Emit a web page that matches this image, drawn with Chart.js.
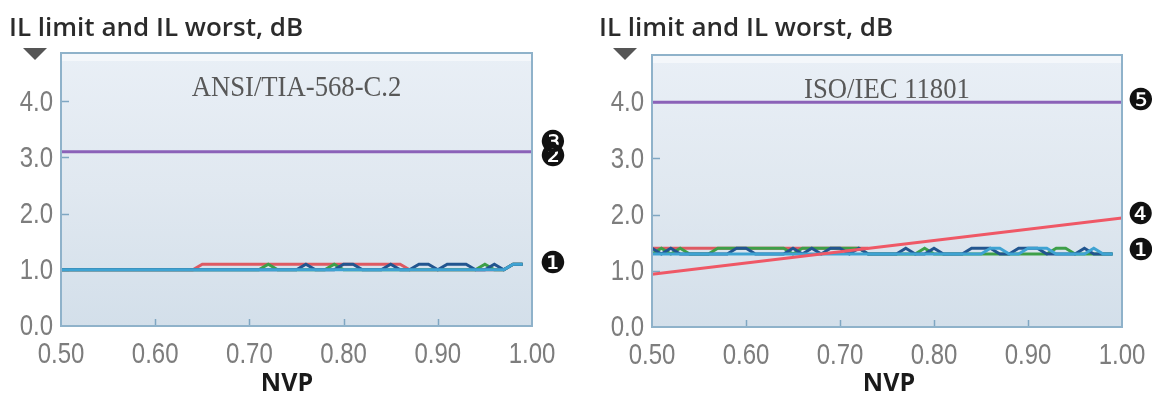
<!DOCTYPE html>
<html>
<head>
<meta charset="utf-8">
<script src="https://cdn.jsdelivr.net/npm/chart.js@4.4.1/dist/chart.umd.min.js"></script>
<style>
  html, body { margin: 0; padding: 0; background: #fff; }
  #wrap { position: relative; width: 1152px; height: 395px; }
  .box { position: absolute; top: 0; height: 395px; }
  #leftBox { left: 0; width: 590px; }
  #rightBox { left: 590px; width: 562px; }
</style>
</head>
<body>
<div id="wrap">
  <div class="box" id="leftBox"><canvas id="leftChart"></canvas></div>
  <div class="box" id="rightBox"><canvas id="rightChart"></canvas></div>
</div>
<script>
// NVP sample points (x axis)
const nvp = [
  0.50, 0.51, 0.52, 0.53, 0.54, 0.55, 0.56, 0.57, 0.58, 0.59,
  0.60, 0.61, 0.62, 0.63, 0.64, 0.65, 0.66, 0.67, 0.68, 0.69,
  0.70, 0.71, 0.72, 0.73, 0.74, 0.75, 0.76, 0.77, 0.78, 0.79,
  0.80, 0.81, 0.82, 0.83, 0.84, 0.85, 0.86, 0.87, 0.88, 0.89,
  0.90, 0.91, 0.92, 0.93, 0.94, 0.95, 0.96, 0.97, 0.98, 0.99
];
const limitX = [0.50, 1.00];

// ANSI/TIA-568-C.2 panel
const ansiLimit = [3.1, 3.1];
const ansiRed = [
  1.0, 1.0, 1.0, 1.0, 1.0, 1.0, 1.0, 1.0, 1.0, 1.0,
  1.0, 1.0, 1.0, 1.0, 1.0, 1.1, 1.1, 1.1, 1.1, 1.1,
  1.1, 1.1, 1.1, 1.1, 1.1, 1.1, 1.1, 1.1, 1.1, 1.1,
  1.1, 1.1, 1.1, 1.1, 1.1, 1.1, 1.1, 1.0, 1.0, 1.0,
  1.0, 1.0, 1.0, 1.0, 1.0, 1.0, 1.0, 1.0, 1.1, 1.1
];
const ansiGreen = [
  1.0, 1.0, 1.0, 1.0, 1.0, 1.0, 1.0, 1.0, 1.0, 1.0,
  1.0, 1.0, 1.0, 1.0, 1.0, 1.0, 1.0, 1.0, 1.0, 1.0,
  1.0, 1.0, 1.1, 1.0, 1.0, 1.0, 1.0, 1.0, 1.0, 1.1,
  1.0, 1.0, 1.0, 1.0, 1.0, 1.0, 1.0, 1.0, 1.0, 1.0,
  1.0, 1.0, 1.0, 1.0, 1.0, 1.1, 1.0, 1.0, 1.1, 1.1
];
const ansiBlue = [
  1.0, 1.0, 1.0, 1.0, 1.0, 1.0, 1.0, 1.0, 1.0, 1.0,
  1.0, 1.0, 1.0, 1.0, 1.0, 1.0, 1.0, 1.0, 1.0, 1.0,
  1.0, 1.0, 1.0, 1.0, 1.0, 1.0, 1.1, 1.0, 1.0, 1.0,
  1.1, 1.1, 1.0, 1.0, 1.0, 1.1, 1.0, 1.0, 1.1, 1.1,
  1.0, 1.1, 1.1, 1.1, 1.0, 1.0, 1.1, 1.0, 1.1, 1.1
];
const ansiCyan = [
  1.0, 1.0, 1.0, 1.0, 1.0, 1.0, 1.0, 1.0, 1.0, 1.0,
  1.0, 1.0, 1.0, 1.0, 1.0, 1.0, 1.0, 1.0, 1.0, 1.0,
  1.0, 1.0, 1.0, 1.0, 1.0, 1.0, 1.0, 1.0, 1.0, 1.0,
  1.0, 1.0, 1.0, 1.0, 1.0, 1.0, 1.0, 1.0, 1.0, 1.0,
  1.0, 1.0, 1.0, 1.0, 1.0, 1.0, 1.0, 1.0, 1.1, 1.1
];
const ansiMarkText = ['\u2778', '\u2777', '\u2776'];
const ansiMarkY = [3.24, 2.98, 1.08];

// ISO/IEC 11801 panel
const isoLimit5 = [4.0, 4.0];
const isoLimit4 = [0.94, 1.94];
const isoRed = [
  1.4, 1.4, 1.4, 1.4, 1.4, 1.4, 1.4, 1.4, 1.4, 1.4,
  1.4, 1.4, 1.4, 1.4, 1.4, 1.4, 1.4, 1.4, 1.4, 1.4,
  1.4, 1.4, 1.4, 1.4, null, null, null, null, null, null,
  null, null, null, null, null, null, null, null, null, null,
  null, null, null, null, null, null, null, null, null, null
];
const isoGreen = [
  1.3, 1.4, 1.3, 1.4, 1.3, 1.3, 1.3, 1.4, 1.4, 1.4,
  1.4, 1.4, 1.4, 1.4, 1.4, 1.3, 1.4, 1.4, 1.4, 1.4,
  1.4, 1.4, 1.4, 1.3, 1.3, 1.3, 1.3, 1.3, 1.3, 1.4,
  1.3, 1.3, 1.3, 1.3, 1.3, 1.3, 1.3, 1.3, 1.3, 1.3,
  1.3, 1.3, 1.3, 1.4, 1.4, 1.3, 1.3, 1.3, 1.3, 1.3
];
const isoBlue = [
  1.4, 1.3, 1.4, 1.3, 1.3, 1.3, 1.3, 1.3, 1.3, 1.4,
  1.4, 1.3, 1.3, 1.3, 1.3, 1.4, 1.3, 1.4, 1.3, 1.4,
  1.4, 1.3, 1.4, 1.3, 1.3, 1.3, 1.3, 1.4, 1.3, 1.3,
  1.4, 1.3, 1.3, 1.3, 1.4, 1.4, 1.4, 1.3, 1.3, 1.4,
  1.4, 1.4, 1.3, 1.3, 1.3, 1.3, 1.4, 1.3, 1.3, 1.3
];
const isoCyan = [
  1.3, 1.3, 1.3, 1.3, 1.3, 1.3, 1.3, 1.3, 1.3, 1.3,
  1.3, 1.3, 1.3, 1.3, 1.3, 1.3, 1.3, 1.3, 1.3, 1.3,
  1.3, 1.3, 1.3, 1.3, 1.3, 1.3, 1.3, 1.3, 1.3, 1.3,
  1.3, 1.3, 1.3, 1.3, 1.3, 1.3, 1.4, 1.4, 1.3, 1.3,
  1.4, 1.4, 1.4, 1.3, 1.3, 1.3, 1.3, 1.4, 1.3, 1.3
];
const isoMarkText = ['\u277A', '\u2779', '\u2776'];
const isoMarkY = [4.0, 1.98, 1.33];

const xTicks = [0.5, 0.6, 0.7, 0.8, 0.9];
const yTicks = [1, 2, 3, 4];

const RED = '#de5a62';
const GREEN = '#3d9f48';
const BLUE = '#22558f';
const CYAN = '#3fa3d3';
const PURPLE = '#8b62b8';
const TICK_FONT = '30px "Liberation Sans", Arial, sans-serif';

function pts(xs, ys) {
  return xs.map((x, i) => ({ x, y: ys[i] }));
}

function line(data, color, width) {
  return {
    data,
    borderColor: color,
    borderWidth: width,
    pointRadius: 0,
    tension: 0,
    fill: false,
  };
}

// narrow-looking label: squeeze horizontally like a condensed face
function narrowText(ctx, text, x, y, align) {
  const sx = 0.8;
  const w = ctx.measureText(text).width * sx;
  let left = x;
  if (align === 'center') left = x - w / 2;
  if (align === 'right') left = x - w;
  ctx.save();
  ctx.translate(left, y);
  ctx.scale(sx, 1);
  ctx.textAlign = 'left';
  ctx.fillText(text, 0, 0);
  ctx.restore();
}

const panelPlugin = {
  id: 'panel',
  beforeDatasetsDraw(chart, args, opts) {
    const { ctx, chartArea: a, scales: { x, y } } = chart;
    ctx.save();
    const g = ctx.createLinearGradient(0, a.top, 0, a.bottom);
    g.addColorStop(0, '#e9eff6');
    g.addColorStop(0.5, '#e0e8f0');
    g.addColorStop(1, '#d3dfea');
    ctx.fillStyle = g;
    ctx.fillRect(a.left, a.top, a.width, a.height);
    ctx.fillStyle = 'rgba(255,255,255,0.5)';
    ctx.fillRect(a.left, a.top, a.width, 8);

    ctx.strokeStyle = '#7fa6c2';
    ctx.lineWidth = 1.5;
    ctx.beginPath();
    xTicks.slice(1).forEach(v => {
      const px = Math.round(x.getPixelForValue(v)) + 0.5;
      ctx.moveTo(px, a.bottom);
      ctx.lineTo(px, a.bottom - 7);
    });
    yTicks.forEach(v => {
      const py = Math.round(y.getPixelForValue(v)) + 0.5;
      ctx.moveTo(a.left, py);
      ctx.lineTo(a.left + 8, py);
    });
    ctx.stroke();

    ctx.fillStyle = '#585858';
    ctx.font = '29px "Liberation Serif", serif';
    ctx.textBaseline = 'middle';
    ctx.save();
    const tw = ctx.measureText(opts.title).width * 0.92;
    ctx.translate((a.left + a.right) / 2 - tw / 2, a.top + 35);
    ctx.scale(0.92, 1);
    ctx.textAlign = 'left';
    ctx.fillText(opts.title, 0, 0);
    ctx.restore();
    ctx.restore();
  },
  afterDatasetsDraw(chart) {
    const { ctx, chartArea: a } = chart;
    ctx.save();
    ctx.strokeStyle = '#8fb2ca';
    ctx.lineWidth = 2;
    ctx.strokeRect(a.left, a.top, a.width, a.height);
    ctx.restore();
  },
  afterDraw(chart, args, opts) {
    const { ctx, chartArea: a, scales: { x, y } } = chart;
    ctx.save();

    // tick labels from the chart's own scales
    ctx.fillStyle = '#7d7d7d';
    ctx.font = TICK_FONT;
    ctx.textBaseline = 'middle';
    y.ticks.forEach(t => {
      narrowText(ctx, t.value.toFixed(1), a.left - 8, y.getPixelForValue(t.value) + 1, 'right');
    });
    x.ticks.forEach(t => {
      narrowText(ctx, t.value.toFixed(2), x.getPixelForValue(t.value), a.bottom + 29, 'center');
    });

    ctx.fillStyle = '#2b2b2b';
    ctx.font = '600 26px "Open Sans", sans-serif';
    ctx.textAlign = 'left';
    ctx.fillText('IL limit and IL worst, dB', 9, 29);

    ctx.fillStyle = '#555';
    ctx.beginPath();
    ctx.moveTo(23, 48);
    ctx.lineTo(47, 48);
    ctx.lineTo(35, 60);
    ctx.closePath();
    ctx.fill();

    ctx.fillStyle = '#1a1a1a';
    ctx.font = 'bold 25px "Open Sans", sans-serif';
    ctx.textAlign = 'center';
    ctx.fillText('NVP', opts.nvpX, 384);

    ctx.fillStyle = '#111';
    ctx.font = '30px "DejaVu Sans", sans-serif';
    opts.marks.forEach((t, i) => {
      ctx.fillText(t, a.right + opts.markGap, y.getPixelForValue(opts.markY[i]));
    });
    ctx.restore();
  },
};

function makeChart(id, datasets, cfg) {
  return new Chart(document.getElementById(id), {
    type: 'line',
    data: { datasets },
    plugins: [panelPlugin],
    options: {
      animation: false,
      responsive: true,
      maintainAspectRatio: false,
      layout: { padding: { top: cfg.top, right: cfg.right, left: 0, bottom: 0 } },
      plugins: {
        legend: { display: false },
        tooltip: { enabled: false },
        panel: cfg.panel,
      },
      scales: {
        x: {
          type: 'linear',
          min: 0.5,
          max: 1.0,
          border: { display: false },
          grid: { display: false },
          ticks: { stepSize: 0.1, display: false },
          afterFit: s => { s.height = cfg.xHeight; },
        },
        y: {
          min: 0,
          max: cfg.yMax,
          border: { display: false },
          grid: { display: false },
          ticks: { stepSize: 1, includeBounds: false, display: false },
          afterFit: s => { s.width = cfg.yWidth; },
        },
      },
    },
  });
}

window.addEventListener('load', () => {
  makeChart('leftChart', [
    line(pts(limitX, ansiLimit), PURPLE, 3),
    line(pts(nvp, ansiCyan), CYAN, 3),
    line(pts(nvp, ansiBlue), BLUE, 3),
    line(pts(nvp, ansiGreen), GREEN, 3),
    line(pts(nvp, ansiRed), RED, 3),
  ], {
    top: 53, right: 58, xHeight: 69, yWidth: 61, yMax: 4.86,
    panel: { title: 'ANSI/TIA-568-C.2', nvpX: 287, marks: ansiMarkText, markY: ansiMarkY, markGap: 21 },
  });

  makeChart('rightChart', [
    line(pts(limitX, isoLimit5), PURPLE, 3),
    line(pts(limitX, isoLimit4), '#ef5866', 3),
    line(pts(nvp, isoCyan), CYAN, 3),
    line(pts(nvp, isoBlue), BLUE, 3),
    line(pts(nvp, isoGreen), GREEN, 3),
    line(pts(nvp, isoRed), RED, 3),
  ], {
    top: 55, right: 30, xHeight: 68, yWidth: 62, yMax: 4.84,
    panel: { title: 'ISO/IEC 11801', nvpX: 299, marks: isoMarkText, markY: isoMarkY, markGap: 19 },
  });
});
</script>
</body>
</html>
